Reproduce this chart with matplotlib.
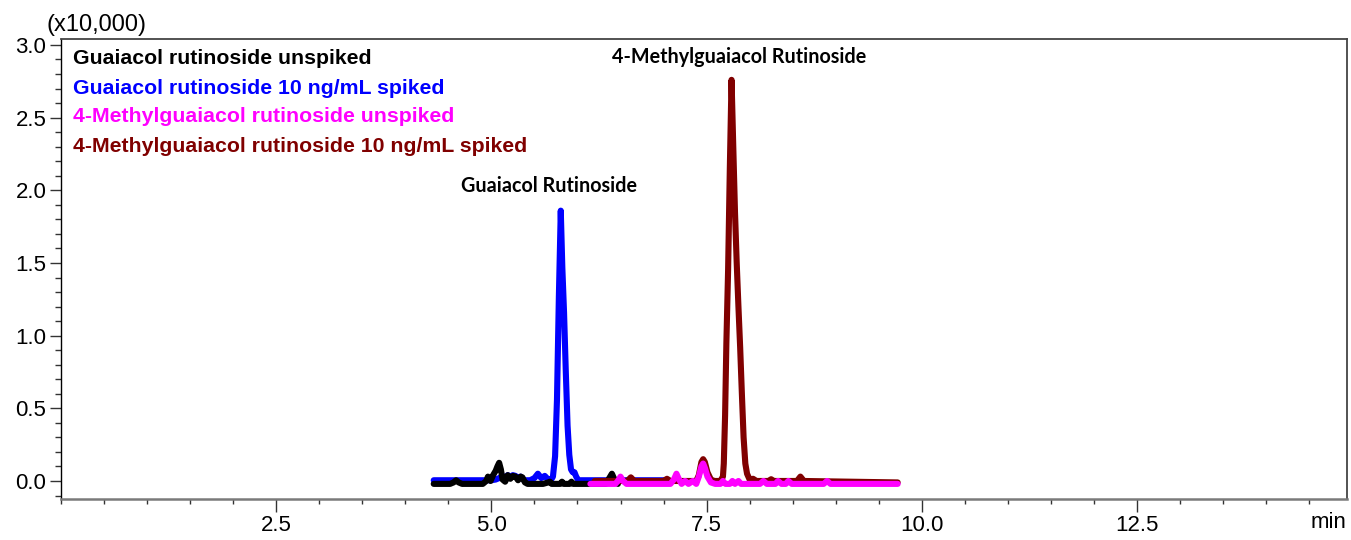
"""
LC-MS/MS chromatogram overlay: guaiacol / 4-methylguaiacol rutinoside,
unspiked vs 10 ng/mL spiked.
"""
import matplotlib
matplotlib.use("Agg")
import matplotlib.pyplot as plt
import matplotlib.ticker as mticker

plt.rcParams["font.family"] = ["Liberation Sans", "DejaVu Sans"]

# retention time (min) / intensity (x10,000)
gr_unspiked_t = [4.33, 4.52, 4.56, 4.59, 4.62, 4.66, 4.90, 4.94, 4.96, 4.99,
                 5.02, 5.05, 5.07, 5.09, 5.11, 5.13, 5.16, 5.19, 5.22, 5.25,
                 5.28, 5.31, 5.34, 5.36, 5.39, 5.42, 5.60, 5.66, 5.68, 5.70,
                 5.80, 5.82, 5.84, 5.91, 5.93, 5.95, 6.10, 6.33, 6.37, 6.40,
                 6.43, 6.47]
gr_unspiked_y = [-0.02, -0.02, -0.01, 0.005, -0.01, -0.02, -0.02, 0.0, 0.03, 0.0,
                 0.04, 0.07, 0.10, 0.125, 0.08, 0.01, -0.005, 0.04, 0.015, 0.035,
                 0.03, 0.005, 0.03, 0.025, -0.01, -0.02, -0.02, -0.01, -0.005, -0.02,
                 -0.02, -0.005, -0.02, -0.02, -0.005, -0.02, -0.02, -0.02, 0.02, 0.05,
                 0.01, -0.02]

gr_spiked_t = [4.33, 5.00, 5.05, 5.09, 5.13, 5.16, 5.19, 5.22, 5.25, 5.28,
               5.31, 5.34, 5.38, 5.45, 5.50, 5.54, 5.58, 5.62, 5.66, 5.69,
               5.715, 5.74, 5.762, 5.784, 5.806, 5.824, 5.844, 5.864, 5.885, 5.905,
               5.925, 5.945, 5.965, 5.985, 6.01, 6.35, 6.38, 6.42, 7.02]
gr_spiked_y = [0.005, 0.005, 0.01, 0.02, 0.035, 0.02, 0.04, 0.03, 0.04, 0.035,
               0.02, 0.03, 0.005, 0.005, 0.02, 0.05, 0.02, 0.035, 0.01, 0.005,
               0.03, 0.17, 0.56, 1.27, 1.86, 1.47, 1.16, 0.76, 0.38, 0.18,
               0.08, 0.06, 0.06, 0.03, 0.005, 0.005, 0.02, 0.005, 0.005]

mgr_unspiked_t = [6.15, 6.44, 6.47, 6.50, 6.53, 6.57, 7.08, 7.12, 7.15, 7.18,
                  7.21, 7.25, 7.29, 7.34, 7.38, 7.41, 7.44, 7.46, 7.48, 7.51,
                  7.55, 7.60, 7.66, 7.69, 7.72, 7.77, 7.80, 7.83, 7.87, 7.90,
                  8.12, 8.16, 8.20, 8.30, 8.33, 8.37, 8.42, 8.45, 8.49, 8.86,
                  8.90, 8.94, 9.72]
mgr_unspiked_y = [-0.02, -0.02, 0.0, 0.03, 0.0, -0.02, -0.02, 0.01, 0.05, 0.01,
                  -0.02, 0.0, -0.02, 0.0, -0.02, 0.03, 0.10, 0.12, 0.09, 0.03,
                  -0.01, -0.02, -0.02, 0.0, -0.02, -0.02, 0.0, -0.02, 0.0, -0.02,
                  -0.02, 0.0, -0.02, -0.02, 0.0, -0.02, -0.02, 0.0, -0.02, -0.02,
                  0.0, -0.02, -0.02]

mgr_spiked_t = [6.20, 6.58, 6.62, 6.66, 7.00, 7.04, 7.08, 7.38, 7.41, 7.44,
                7.46, 7.48, 7.51, 7.55, 7.59, 7.66, 7.69, 7.70, 7.715, 7.73,
                7.75, 7.77, 7.79, 7.81, 7.83, 7.85, 7.87, 7.89, 7.91, 7.93,
                7.95, 7.97, 8.00, 8.04, 8.08, 8.22, 8.25, 8.28, 8.55, 8.59,
                8.63, 9.72]
mgr_spiked_y = [0.0, 0.0, 0.025, 0.0, 0.0, 0.015, 0.0, 0.0, 0.04, 0.13,
                0.15, 0.13, 0.06, 0.01, 0.0, 0.0, 0.03, 0.12, 0.45, 0.95,
                1.45, 2.15, 2.76, 2.30, 1.85, 1.50, 1.20, 0.92, 0.60, 0.30,
                0.12, 0.05, 0.01, 0.015, 0.0, 0.0, 0.012, 0.0, 0.0, 0.03,
                0.0, -0.01]

legend_labels = ["Guaiacol rutinoside unspiked",
                 "Guaiacol rutinoside 10 ng/mL spiked",
                 "4-Methylguaiacol rutinoside unspiked",
                 "4-Methylguaiacol rutinoside 10 ng/mL spiked"]
peak_labels = ["Guaiacol Rutinoside", "4-Methylguaiacol Rutinoside"]
peak_label_pos = [(5.668, 2.03), (7.88, 2.92)]

C_BLACK, C_BLUE, C_MAG, C_MAROON = "#000000", "#0000ff", "#ff00ff", "#800000"

W, H = 1351, 540
fig = plt.figure(figsize=(W / 100, H / 100), dpi=100)
# axes box in pixels: left 61, right 1347, top 39, bottom 499
ax = fig.add_axes([61 / W, (H - 499) / H, (1347 - 61) / W, (499 - 39) / H])

kw = dict(lw=4.4, solid_joinstyle="round", solid_capstyle="round")
ax.plot(gr_spiked_t, gr_spiked_y, color=C_BLUE, zorder=2, **kw)
ax.plot(gr_unspiked_t, gr_unspiked_y, color=C_BLACK, zorder=3, **kw)
ax.plot(mgr_spiked_t, mgr_spiked_y, color=C_MAROON, zorder=4, **kw)
ax.plot(mgr_unspiked_t, mgr_unspiked_y, color=C_MAG, zorder=5, **kw)

ax.set_xlim(0.0, 14.94)
ax.set_ylim(-0.124, 3.041)

ax.set_xticks([2.5, 5.0, 7.5, 10.0, 12.5])
ax.xaxis.set_minor_locator(mticker.MultipleLocator(0.5))
ax.yaxis.set_major_locator(mticker.MultipleLocator(0.5))
ax.yaxis.set_minor_locator(mticker.MultipleLocator(0.1))
ax.xaxis.set_major_formatter(mticker.FormatStrFormatter("%.1f"))
ax.yaxis.set_major_formatter(mticker.FormatStrFormatter("%.1f"))

ax.tick_params(axis="both", which="both", direction="out", color="#333333",
               width=1.0, labelsize=16, top=False, right=False)
ax.tick_params(axis="x", which="major", length=9.5, pad=2)
ax.tick_params(axis="x", which="minor", length=3.5)
ax.tick_params(axis="y", which="major", length=8.0, pad=2.5)
ax.tick_params(axis="y", which="minor", length=4.3)

ax.spines["left"].set_color("#000000")
ax.spines["left"].set_linewidth(1.0)
for s in ("top", "right"):
    ax.spines[s].set_color("#444444")
    ax.spines[s].set_linewidth(1.3)
ax.spines["bottom"].set_color("#7a7a7a")
ax.spines["bottom"].set_linewidth(1.8)

# coloured text legend in the upper-left corner
legend_colors = [C_BLACK, C_BLUE, C_MAG, C_MAROON]
legend_y = [0.9446, 0.8815, 0.8185, 0.7554]
for label, color, y in zip(legend_labels, legend_colors, legend_y):
    ax.text(0.0093, y, label, transform=ax.transAxes, color=color,
            fontsize=15.3, fontweight="bold", ha="left", va="baseline")

for label, (x, y) in zip(peak_labels, peak_label_pos):
    ax.text(x, y, label, fontsize=14.2, fontweight="bold", ha="center",
            va="center", family=["Lato", "DejaVu Sans"])

fig.text(47 / W, 1 - 31 / H, "(x10,000)", fontsize=17, ha="left", va="baseline")
fig.text(1346 / W, 1 - 523 / H, "min", fontsize=16, ha="right", va="center")

fig.savefig("out.png", dpi=100)
